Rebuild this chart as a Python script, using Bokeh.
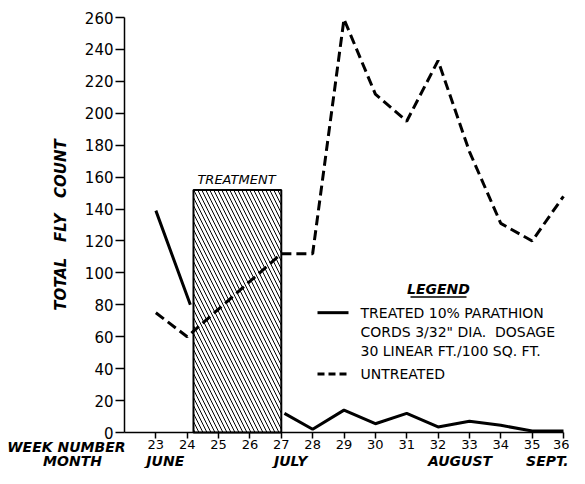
import numpy as np
from bokeh.plotting import figure
from bokeh.models import Range1d, FixedTicker, Label, LinearAxis
from bokeh.embed import file_html
from bokeh.resources import INLINE

# ---- data ----
week_ticks = [23, 24, 25, 26, 27, 28, 29, 30, 31, 32, 33, 34, 35, 36]
count_ticks = [0, 20, 40, 60, 80, 100, 120, 140, 160, 180, 200, 220, 240, 260]

treated_weeks = [23, 24.1, np.nan, 27.1, 28, 29, 30, 31, 32, 33, 34, 35, 36]
treated_counts = [139, 80, np.nan, 12, 2, 14, 5.5, 12, 3.5, 7, 4.5, 1, 1]

untreated_weeks = [23, 24, 27, 28, 29, 30, 31, 32, 33, 34, 35, 36]
untreated_counts = [75, 60, 112, 112, 259, 212, 195, 233, 176, 131, 120, 148]

treatment_start = [24.2]
treatment_end = [27]
treatment_height = [152]

month_names = ["JUNE", "JULY", "AUGUST", "SEPT."]
month_weeks = [23.3, 27.3, 32.7, 36.0]

FONT = "DejaVu Sans"
NB = "\u00a0"
W, H = 569, 468
Y0, Y260 = 432, 17     # screen rows of 0 and 260


def px(xp):
    # screen column -> week value (22..36 spans columns 124..563)
    return 22 + (xp - 124) * 14 / 439


def sv(ys):
    # screen row -> count value
    return (Y0 - ys) * 260 / (Y0 - Y260)


def rv(yp):
    # row in the reference picture -> count value
    return (444 - yp) * 260 / 426


p = figure(width=W, height=H, output_backend="svg", toolbar_location=None,
           x_range=Range1d(px(0), px(W)), y_range=Range1d(sv(H), sv(0)),
           x_axis_location=None, y_axis_location=None, min_border=0)
p.outline_line_color = None
p.background_fill_color = "white"
p.border_fill_color = "white"
p.xgrid.grid_line_color = None
p.ygrid.grid_line_color = None

xaxis = LinearAxis(fixed_location=0, bounds=(22, 36), ticker=FixedTicker(ticks=week_ticks))
yaxis = LinearAxis(fixed_location=22, bounds=(0, 260), ticker=FixedTicker(ticks=count_ticks))
for ax in (xaxis, yaxis):
    ax.axis_line_width = 1.5
    ax.axis_line_color = "black"
    ax.major_tick_line_color = "black"
    ax.major_tick_line_width = 1.5
    ax.major_tick_in = 0
    ax.minor_tick_line_color = None
    ax.major_label_text_font = FONT
    ax.major_label_text_color = "black"
xaxis.major_tick_out = 6
xaxis.major_label_standoff = 1
xaxis.major_label_text_font_size = "13px"
yaxis.major_tick_out = 9
yaxis.major_label_standoff = 2
yaxis.major_label_text_font_size = "15px"
p.add_layout(xaxis, "below")
p.add_layout(yaxis, "left")

# treatment block
p.quad(left=treatment_start, right=treatment_end, bottom=[0], top=treatment_height,
       fill_color="white", line_color="black", line_width=2,
       hatch_pattern="\\", hatch_color="black", hatch_scale=8, hatch_weight=1)

# series
p.line(untreated_weeks, untreated_counts, line_color="black", line_width=3,
       line_dash="10 5")
p.line(treated_weeks, treated_counts, line_color="black", line_width=3)


def lab(x, y, text, size="14px", style="normal", align="left", baseline="middle", angle=0):
    p.add_layout(Label(x=x, y=y, text=text, text_font=FONT, text_font_size=size,
                       text_font_style=style, text_align=align, text_baseline=baseline,
                       angle=angle, text_color="black"))


lab(px(236), rv(184), "TREATMENT", size="13px", style="italic", align="center")

# axis titles
lab(px(60), rv(231), NB.join(["TOTAL", "", "", "FLY", "", "", "COUNT"]), size="15px",
    style="bold italic", align="center", angle=np.pi / 2)
lab(px(125), sv(446), "WEEK" + NB + "NUMBER", style="bold italic", align="right")
lab(px(72), sv(468), "MONTH", style="bold italic", align="center", baseline="bottom")
for name, wk in zip(month_names, month_weeks):
    if name == "SEPT.":
        lab(px(568), sv(468), name, style="bold italic", align="right", baseline="bottom")
    else:
        lab(wk, sv(468), name, style="bold italic", align="center", baseline="bottom")

# legend
lab(px(438), rv(297), "LEGEND", style="bold italic", align="center")
p.line([px(410), px(466)], [rv(305), rv(305)], line_color="black", line_width=1.5)
p.line([px(317), px(348)], [rv(321), rv(321)], line_color="black", line_width=3)
lab(px(360), rv(321), "TREATED 10% PARATHION")
lab(px(360), rv(341), "CORDS 3/32\" DIA." + NB + NB + "DOSAGE")
lab(px(360), rv(360), "30 LINEAR FT./100 SQ. FT.")
p.line([px(317), px(348)], [rv(384), rv(384)], line_color="black", line_width=3, line_dash="7 4")
lab(px(360), rv(384), "UNTREATED")

open("out.html", "w").write(file_html(p, INLINE))
